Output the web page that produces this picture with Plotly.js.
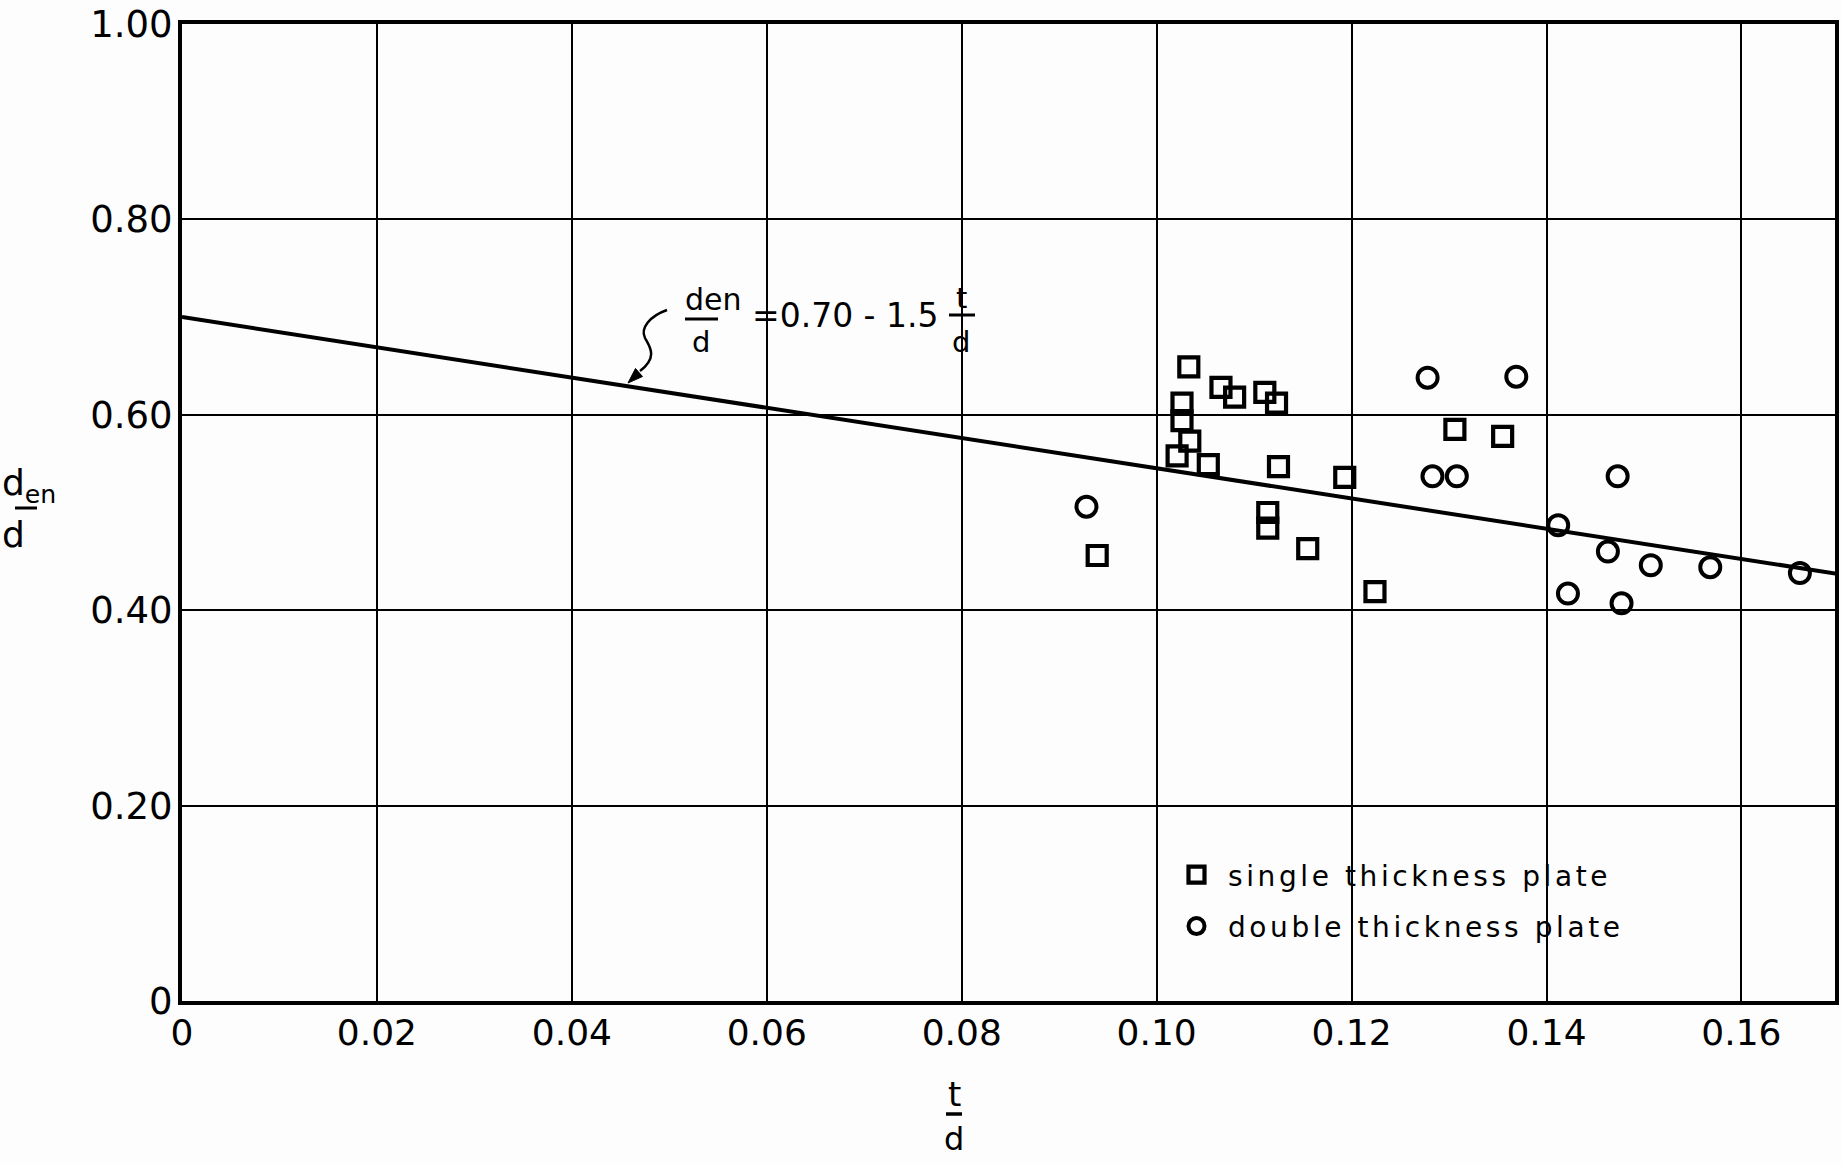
<!DOCTYPE html>
<html>
<head>
<meta charset="utf-8">
<script src="https://cdn.plot.ly/plotly-3.0.1.min.js"></script>
<style>
  html, body { margin: 0; padding: 0; background: #fdfdfd; }
  #chart { width: 1842px; height: 1163px; }
  .legendtext { letter-spacing: 3.6px; }
</style>
</head>
<body>
<div id="chart"></div>
<script>
// ---- data ----
// single thickness plate (squares)
const singleT   = [0.0939, 0.1033, 0.1026, 0.1026, 0.1034, 0.1021, 0.1053, 0.1066, 0.1080, 0.1111,
                   0.1123, 0.1125, 0.1114, 0.1114, 0.1155, 0.1193, 0.1224, 0.1306, 0.1355];
const singleDen = [0.456, 0.649, 0.612, 0.594, 0.573, 0.558, 0.549, 0.628, 0.618, 0.623,
                   0.612, 0.547, 0.500, 0.484, 0.463, 0.536, 0.419, 0.585, 0.578];
// double thickness plate (circles)
const doubleT   = [0.0928, 0.1278, 0.1283, 0.1308, 0.1369, 0.1412, 0.1422, 0.1463, 0.1473, 0.1477,
                   0.1507, 0.1568, 0.1660];
const doubleDen = [0.506, 0.638, 0.537, 0.537, 0.639, 0.487, 0.417, 0.460, 0.537, 0.407,
                   0.446, 0.444, 0.438];
// fitted line as drawn:  d_en/d = 0.70 - 1.5 t/d  (end points)
const fitT   = [0, 0.17];
const fitDen = [0.70, 0.437];
// axis ticks
const xTickVals = [0, 0.02, 0.04, 0.06, 0.08, 0.10, 0.12, 0.14, 0.16];
const xTickText = ['0', '0.02', '0.04', '0.06', '0.08', '0.10', '0.12', '0.14', '0.16'];
const yTickVals = [0, 0.2, 0.4, 0.6, 0.8, 1.0];
const yTickText = ['0', '0.20', '0.40', '0.60', '0.80', '1.00'];
const legendNames = ['single thickness plate', 'double thickness plate'];

// ---- layout geometry ----
const W = 1842, H = 1163;
const M = {l: 182, r: 7, t: 24, b: 162};
const PW = W - M.l - M.r, PH = H - M.t - M.b;
const px2x = px => (px - M.l) / PW;
const py2y = py => (H - M.b - py) / PH;
const P = (px, py) => px2x(px).toFixed(5) + ',' + py2y(py).toFixed(5);

const FONT = 'DejaVu Sans';

const traces = [
  {
    type: 'scatter', mode: 'lines', x: fitT, y: fitDen,
    line: {color: '#000', width: 4}, showlegend: false, hoverinfo: 'skip'
  },
  {
    type: 'scatter', mode: 'markers', x: singleT, y: singleDen, name: legendNames[0],
    legendgroup: 'single',
    marker: {symbol: 'square-open', size: 19, color: '#000', line: {width: 4.2, color: '#000'}}
  },
  {
    type: 'scatter', mode: 'markers', x: doubleT, y: doubleDen, name: legendNames[1],
    legendgroup: 'double',
    marker: {symbol: 'circle-open', size: 20, color: '#000', line: {width: 4, color: '#000'}}
  }
];

function txt(text, px, py, size, xanchor) {
  return {
    xref: 'paper', yref: 'paper', x: px2x(px), y: py2y(py),
    text: text, showarrow: false, xanchor: xanchor || 'center', yanchor: 'middle',
    font: {family: FONT, size: size, color: '#000'}
  };
}
function bar(x0, x1, py, w) {
  return {
    type: 'line', xref: 'paper', yref: 'paper',
    x0: px2x(x0), x1: px2x(x1), y0: py2y(py), y1: py2y(py),
    line: {color: '#000', width: w || 3}
  };
}

const annotations = [
  // y axis title  d_en / d
  txt('d<sub>en</sub>', 0, 485, 36, 'left'),
  txt('d', 0, 534, 36, 'left'),
  // x axis title  t / d
  txt('t', 954, 1094, 34),
  txt('d', 954, 1139, 32),
  // equation label
  txt('den', 713, 299, 30),
  txt('d', 701, 342, 29),
  txt('=0.70 - 1.5', 750, 315, 33, 'left'),
  txt('t', 961, 298, 29),
  txt('d', 961, 342, 29)
];

const shapes = [
  bar(15, 37, 508, 3),
  bar(946, 962, 1114, 3.5),
  bar(685, 718, 319, 3),
  bar(949, 975, 315, 3),
  // wavy leader to the line
  {
    type: 'path', xref: 'paper', yref: 'paper',
    path: 'M' + P(667, 310) + ' C' + P(650, 316) + ' ' + P(640, 328) + ' ' + P(645, 338) +
          ' C' + P(650, 347) + ' ' + P(658, 357) + ' ' + P(640, 371),
    line: {color: '#000', width: 2.5}
  },
  // arrow head
  {
    type: 'path', xref: 'paper', yref: 'paper',
    path: 'M' + P(628, 383) + ' L' + P(642.5, 376.5) + ' L' + P(635.5, 368.5) + ' Z',
    fillcolor: '#000', line: {color: '#000', width: 1}
  }
];

const layout = {
  width: W, height: H,
  margin: M,
  paper_bgcolor: '#fdfdfd', plot_bgcolor: '#fdfdfd',
  font: {family: FONT, color: '#000'},
  showlegend: true,
  legend: {
    x: px2x(1165), y: py2y(850), xanchor: 'left', yanchor: 'top',
    font: {family: FONT, size: 28, color: '#000'},
    bgcolor: 'rgba(0,0,0,0)', traceorder: 'grouped', tracegroupgap: 12,
    itemsizing: 'trace', itemwidth: 53
  },
  xaxis: {
    range: [0, 0.1696], tickvals: xTickVals, ticktext: xTickText,
    showgrid: true, gridcolor: '#000', gridwidth: 2,
    showline: true, linecolor: '#000', linewidth: 4, mirror: true,
    zeroline: false, ticks: '', ticklen: 0, ticklabelstandoff: -3,
    tickfont: {family: FONT, size: 36, color: '#000'}
  },
  yaxis: {
    range: [0, 1.0], tickvals: yTickVals, ticktext: yTickText,
    showgrid: true, gridcolor: '#000', gridwidth: 2,
    showline: true, linecolor: '#000', linewidth: 4, mirror: true,
    zeroline: false, ticks: '', ticklen: 0, ticklabelstandoff: -2,
    tickfont: {family: FONT, size: 37, color: '#000'}
  },
  annotations: annotations,
  shapes: shapes
};

Plotly.newPlot('chart', traces, layout, {displayModeBar: false, staticPlot: true});
</script>
</body>
</html>
